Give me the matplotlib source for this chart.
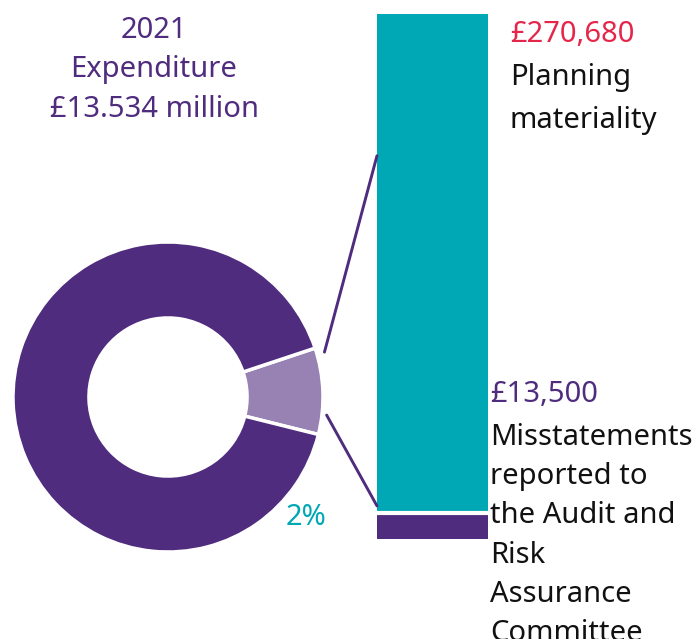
import numpy as np
import matplotlib.pyplot as plt
from matplotlib.patches import ConnectionPatch

plt.rcParams['font.family'] = ['Noto Sans', 'DejaVu Sans']

# donut shares as drawn (highlighted slice is labelled 2%)
donut_shares = [9, 91]
donut_label = '2%'

# bar: planning materiality, misstatements reported sit at the bottom
materiality = 270680
misstatements = 13500

title_lines = ['2021', 'Expenditure', '£13.534 million']
top_value = '£270,680'
top_lines = ['Planning', 'materiality']
low_value = '£13,500'
low_lines = ['Misstatements', 'reported to', 'the Audit and', 'Risk',
             'Assurance', 'Committee']

purple = '#4f2c7e'
lilac = '#9782b3'
teal = '#00a8b5'
red = '#e5264b'
ink = '#111111'

W, H = 699, 639
fig = plt.figure(figsize=(W / 100, H / 100), dpi=100)


def px_axes(x0, y0, x1, y1):
    return fig.add_axes([x0 / W, 1 - y1 / H, (x1 - x0) / W, (y1 - y0) / H])


# overlay in pixel coords for the text
over = fig.add_axes([0, 0, 1, 1])
over.set_xlim(0, W)
over.set_ylim(H, 0)
over.axis('off')

# donut
dax = px_axes(13, 242, 323, 552)
dax.pie(donut_shares, colors=[lilac, purple], startangle=-14,
        counterclock=True, radius=1,
        wedgeprops=dict(width=0.49, edgecolor='white', linewidth=2.5))
dax.set_xlim(-1, 1)
dax.set_ylim(-1, 1)
dax.axis('off')

# stacked bar
bax = px_axes(377, 14, 488, 539)
bax.bar(0, misstatements, width=1, color=purple)
bax.bar(0, materiality - misstatements, bottom=misstatements, width=1, color=teal)
bax.axhline(misstatements, color='white', lw=3)
bax.set_xlim(-0.5, 0.5)
bax.set_ylim(0, materiality)
bax.axis('off')

# connector lines from the slice to the bar
for ang, r, yfrac in [(16, 1.05, 0.73), (-6.5, 1.03, 0.063)]:
    a = np.radians(ang)
    con = ConnectionPatch(xyA=(r * np.cos(a), r * np.sin(a)), coordsA=dax.transData,
                          xyB=(-0.5, yfrac * materiality), coordsB=bax.transData,
                          color=purple, lw=2.1)
    fig.add_artist(con)

fs = 21
for i, s in enumerate(title_lines):
    over.text(154, 38 + i * 39.5, s, ha='center', va='baseline', fontsize=fs, color=purple)

over.text(510, 42, top_value, ha='left', va='baseline', fontsize=fs, color=red)
for i, s in enumerate(top_lines):
    over.text(510, 85 + i * 43, s, ha='left', va='baseline', fontsize=fs, color=ink)

over.text(490, 402, low_value, ha='left', va='baseline', fontsize=fs, color=purple)
for i, s in enumerate(low_lines):
    over.text(490, 445 + i * 39.2, s, ha='left', va='baseline', fontsize=fs, color=ink)

over.text(306, 525, donut_label, ha='center', va='baseline', fontsize=fs, color=teal)

fig.savefig('out.png', dpi=100)
